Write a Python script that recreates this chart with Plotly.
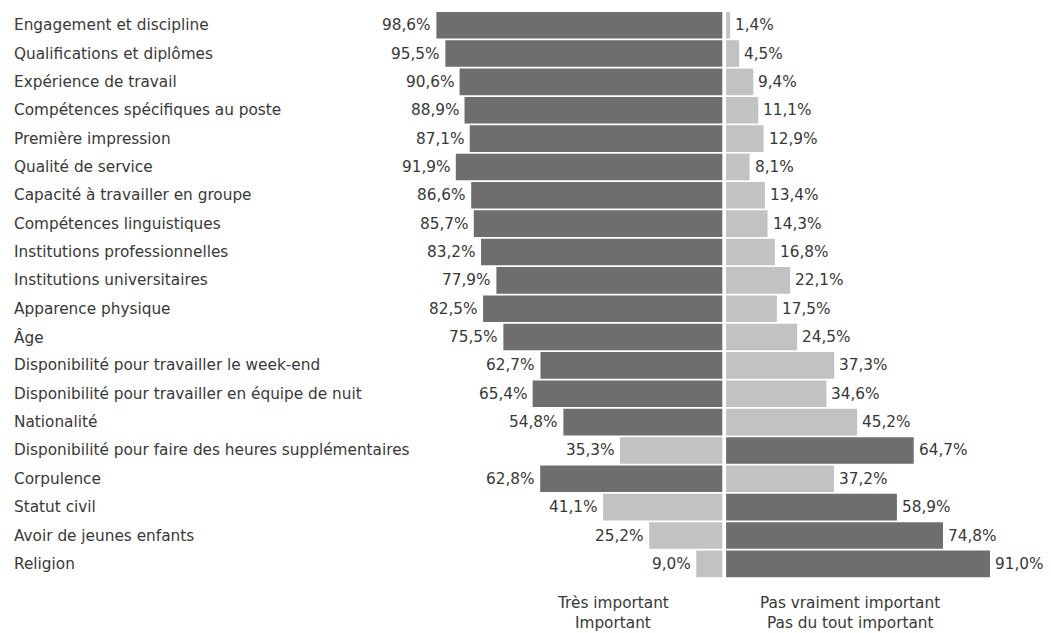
import plotly.graph_objects as go

# Survey: importance of criteria in hiring decisions (% of respondents)
criteres = [
    "Engagement et discipline",
    "Qualifications et diplômes",
    "Expérience de travail",
    "Compétences spécifiques au poste",
    "Première impression",
    "Qualité de service",
    "Capacité à travailler en groupe",
    "Compétences linguistiques",
    "Institutions professionnelles",
    "Institutions universitaires",
    "Apparence physique",
    "Âge",
    "Disponibilité pour travailler le week-end",
    "Disponibilité pour travailler en équipe de nuit",
    "Nationalité",
    "Disponibilité pour faire des heures supplémentaires",
    "Corpulence",
    "Statut civil",
    "Avoir de jeunes enfants",
    "Religion",
]
important = [98.6, 95.5, 90.6, 88.9, 87.1, 91.9, 86.6, 85.7, 83.2, 77.9,
             82.5, 75.5, 62.7, 65.4, 54.8, 35.3, 62.8, 41.1, 25.2, 9.0]
pas_important = [1.4, 4.5, 9.4, 11.1, 12.9, 8.1, 13.4, 14.3, 16.8, 22.1,
                 17.5, 24.5, 37.3, 34.6, 45.2, 64.7, 37.2, 58.9, 74.8, 91.0]
legende_gauche = ["Très important", "Important"]
legende_droite = ["Pas vraiment important", "Pas du tout important"]

FONCE = "#6e6e6e"
CLAIR = "#c2c2c2"
TEXTE = "#383838"
FONT = "DejaVu Sans"
FS = 15.3
GAP = 0.65  # half-gap around the centre line, in % units

rows = list(range(len(criteres)))
col_g = [FONCE if a >= b else CLAIR for a, b in zip(important, pas_important)]
col_d = [FONCE if b > a else CLAIR for a, b in zip(important, pas_important)]

fig = go.Figure()
fig.add_trace(go.Bar(
    y=rows, x=[-v for v in important], base=-GAP, orientation="h",
    marker=dict(color=col_g, line=dict(width=0)), width=0.94,
    hoverinfo="skip", showlegend=False,
))
fig.add_trace(go.Bar(
    y=rows, x=pas_important, base=GAP, orientation="h",
    marker=dict(color=col_d, line=dict(width=0)), width=0.94,
    hoverinfo="skip", showlegend=False,
))

def fr(v):
    return f"{v:.1f}".replace(".", ",") + "%"

police = dict(size=FS, color=TEXTE, family=FONT)
ann = []
for i, (a, b, nom) in enumerate(zip(important, pas_important, criteres)):
    ann.append(dict(x=-GAP - a, y=i, text=fr(a), xanchor="right", yanchor="middle",
                    xshift=-3, showarrow=False, font=police))
    ann.append(dict(x=GAP + b, y=i, text=fr(b), xanchor="left", yanchor="middle",
                    xshift=3, showarrow=False, font=police))
    ann.append(dict(x=12 / 1051, xref="paper", y=i, text=nom, xanchor="left", yanchor="middle",
                    showarrow=False, font=police))

# legend captions under each half
for k, (g, d) in enumerate(zip(legende_gauche, legende_droite)):
    yy = 20.38 + 0.69 * k
    ann.append(dict(x=-38.5, y=yy, text=g, xanchor="center", yanchor="middle",
                    showarrow=False, font=police))
    ann.append(dict(x=43.5, y=yy, text=d, xanchor="center", yanchor="middle",
                    showarrow=False, font=police))

PX = 2.9     # pixels per percentage point
CX = 724.2   # centre line position
fig.update_layout(
    width=1051, height=633,
    margin=dict(l=0, r=0, t=0, b=0),
    paper_bgcolor="white", plot_bgcolor="white",
    barmode="overlay",
    xaxis=dict(range=[-CX / PX, (1051 - CX) / PX], visible=False, fixedrange=True),
    yaxis=dict(range=[(633 - 25.2) / 28.35, -25.2 / 28.35], visible=False, fixedrange=True),
    annotations=ann,
)

fig.write_html("out.html")
